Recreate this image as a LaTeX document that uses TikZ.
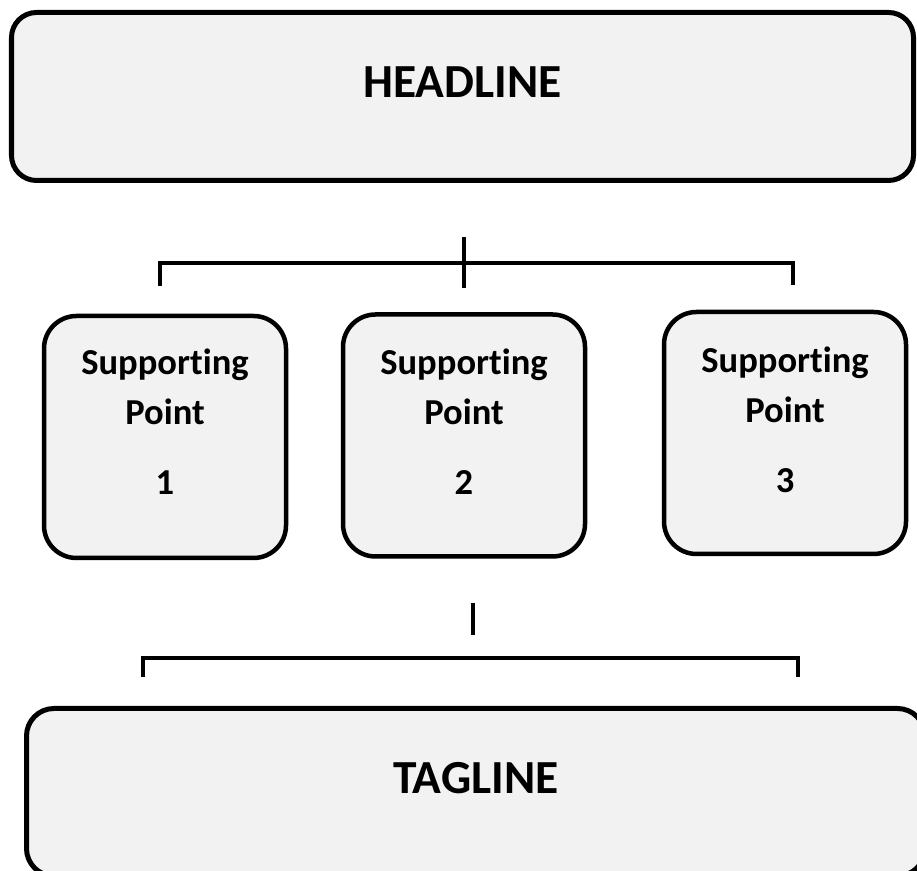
\documentclass[tikz,border=0pt]{standalone}
\usepackage{fontspec}
\setmainfont{Carlito}[Ligatures=NoCommon]
\usepackage{xcolor}
\definecolor{boxgray}{HTML}{F2F2F2}

\begin{document}
\begin{tikzpicture}[font=\bfseries,
        bigbox/.style={draw, line width=0.1cm, fill=boxgray, rounded corners=0.5cm, inner sep=0pt},
        pointbox/.style={draw, line width=0.09cm, fill=boxgray, rounded corners=0.65cm, inner sep=0pt,
            minimum width=4.84cm, minimum height=4.84cm},
        bigtext/.style={font=\fontsize{27}{32}\selectfont\bfseries},
        pointtext/.style={align=center, font=\fontsize{20.8}{28.45}\selectfont\bfseries},
        bracket/.style={line width=0.066cm}]
        % Page frame
        \useasboundingbox (0,0) rectangle (18.34,17.42);
        \clip (0,0) rectangle (18.34,17.42);

        % Headline
        \node[bigbox, minimum width=18.04cm, minimum height=3.36cm] (headline) at (9.25,15.49) {};
        \node[bigtext] (headline-text) at ([yshift=0.29cm]headline.center) {HEADLINE};

        % Bracket down to the supporting points
        \coordinate (top-tick-a) at (9.28,12.68);
        \coordinate (top-tick-b) at (9.28,11.66);
        \coordinate (top-left) at (3.20,11.70);
        \coordinate (top-right) at (15.86,11.72);
        \draw[bracket] (top-tick-a) -- (top-tick-b);
        \draw[bracket] (top-left) |- (9.28,12.16) -| (top-right);

        % Supporting points
        \node[pointbox] (point1) at (3.30,8.68) {};
        \node[pointtext] (point1-text) at ([yshift=0.30cm]point1.center) {Supporting\\Point\\[0.4cm]1};

        \node[pointbox] (point2) at (9.28,8.71) {};
        \node[pointtext] (point2-text) at ([yshift=0.28cm]point2.center) {Supporting\\Point\\[0.4cm]2};

        \node[pointbox] (point3) at (15.70,8.76) {};
        \node[pointtext] (point3-text) at ([yshift=0.27cm]point3.center) {Supporting\\Point\\[0.4cm]3};

        % Bracket down to the tagline
        \coordinate (low-tick-a) at (9.46,5.36);
        \coordinate (low-tick-b) at (9.46,4.72);
        \coordinate (low-left) at (2.86,3.88);
        \coordinate (low-right) at (15.96,3.88);
        \draw[bracket] (low-tick-a) -- (low-tick-b);
        \draw[bracket] (low-left) |- (9.46,4.26) -| (low-right);

        % Tagline
        \node[bigbox, rounded corners=0.55cm, minimum width=17.97cm, minimum height=3.35cm] (tagline) at (9.515,1.575) {};
        \node[bigtext] (tagline-text) at ([yshift=0.285cm]tagline.center) {TAGLINE};
\end{tikzpicture}
\end{document}
